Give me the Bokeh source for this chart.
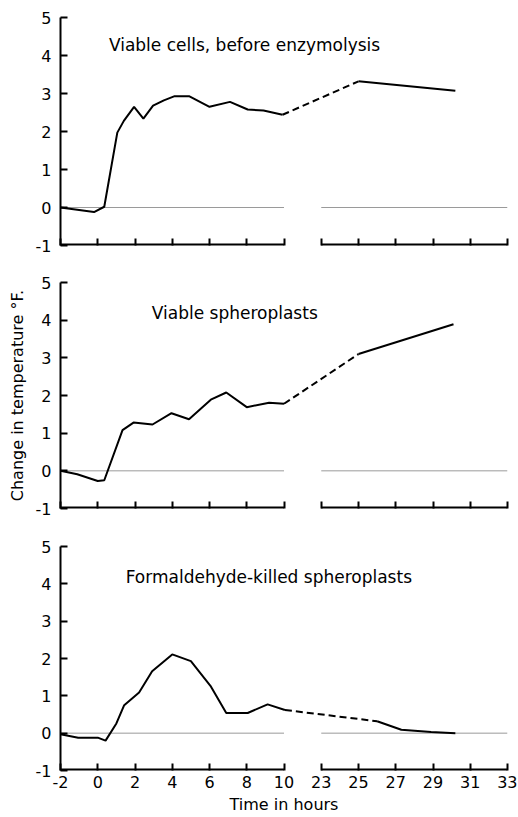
from bokeh.plotting import figure
from bokeh.layouts import column
from bokeh.models import Range1d, FixedTicker, Label
from bokeh.embed import file_html
from bokeh.resources import INLINE

# ---- data -------------------------------------------------------------
# broken time axis: hours 10 -> 23 are drawn as a 2-hour gap
x_min, break_start, break_end, x_max = -2, 10, 23, 33
gap = 2
x_ticks_hours = [-2, 0, 2, 4, 6, 8, 10, 23, 25, 27, 29, 31, 33]
y_ticks = [-1, 0, 1, 2, 3, 4, 5]

titles = ["Viable cells, before enzymolysis",
          "Viable spheroplasts",
          "Formaldehyde-killed spheroplasts"]
title_x = [0.6, 2.9, 1.5]
title_y = [4.28, 4.2, 4.17]

t_cells = [-2, -0.2, 0.35, 1.05, 1.4, 1.95, 2.45, 2.97, 3.55, 4.13, 4.9, 6.0, 7.1, 8.05, 8.9, 9.92, 25, 30.2]
y_cells = [0.0, -0.12, 0.02, 1.97, 2.28, 2.65, 2.34, 2.68, 2.82, 2.93, 2.93, 2.65, 2.78, 2.58, 2.55, 2.44, 3.32, 3.07]

t_sph = [-2, -1.1, 0.0, 0.35, 1.33, 1.92, 2.94, 3.96, 4.9, 6.07, 6.9, 8.0, 9.2, 10.0, 25, 30.1]
y_sph = [0.0, -0.09, -0.27, -0.25, 1.08, 1.28, 1.23, 1.53, 1.37, 1.89, 2.08, 1.69, 1.81, 1.78, 3.1, 3.89]

t_form = [-2, -1.05, 0.0, 0.42, 1.0, 1.42, 2.22, 2.92, 4.0, 5.0, 6.05, 6.9, 8.05, 9.12, 10.05, 26.0, 27.3, 28.9, 30.2]
y_form = [-0.03, -0.12, -0.12, -0.2, 0.26, 0.75, 1.09, 1.66, 2.11, 1.93, 1.27, 0.54, 0.54, 0.77, 0.62, 0.32, 0.09, 0.03, 0.0]

series = [(t_cells, y_cells), (t_sph, y_sph), (t_form, y_form)]


def to_axis(t):
    """Map hours to the broken axis coordinate."""
    return t if t < break_end else t - (break_end - break_start - gap)


FONT = "DejaVu Sans"

frame_heights = [228, 226, 224]
borders_top = [17, 19, 20]
borders_bottom = [18, 18, 43]

figs = []
for i, (ts, ys) in enumerate(series):
    last = i == 2
    p = figure(frame_width=447, frame_height=frame_heights[i],
               min_border_left=60, min_border_right=10,
               min_border_top=borders_top[i], min_border_bottom=borders_bottom[i],
               x_range=Range1d(to_axis(x_min), to_axis(x_max)),
               y_range=Range1d(-1, 5),
               output_backend="svg", toolbar_location=None)
    p.outline_line_color = None
    p.grid.visible = False
    p.background_fill_color = "white"

    # y axis
    ya = p.yaxis[0]
    ya.ticker = FixedTicker(ticks=y_ticks)
    ya.major_label_overrides = {v: str(v) for v in y_ticks}
    ya.axis_line_width = 2
    ya.axis_line_color = "black"
    ya.major_tick_in = 7
    ya.major_tick_out = 0
    ya.major_tick_line_width = 2
    ya.minor_tick_line_color = None
    ya.major_label_standoff = 9
    ya.major_label_text_font = FONT
    ya.major_label_text_font_size = "16px"
    ya.major_label_text_color = "black"
    if i == 1:
        ya.axis_label = "Change in temperature \u00b0F."
        ya.axis_label_text_font = FONT
        ya.axis_label_text_font_size = "16px"
        ya.axis_label_text_font_style = "normal"
        ya.axis_label_text_color = "black"
        ya.axis_label_standoff = 6

    # x axis (broken)
    xa = p.xaxis[0]
    xa.ticker = FixedTicker(ticks=[to_axis(h) for h in x_ticks_hours])
    xa.axis_line_color = None
    xa.major_tick_in = 7
    xa.major_tick_out = 0
    xa.major_tick_line_width = 2
    xa.minor_tick_line_color = None
    if last:
        xa.major_label_overrides = {to_axis(h): str(h) for h in x_ticks_hours}
        xa.major_label_text_font = FONT
        xa.major_label_text_font_size = "16px"
        xa.major_label_text_color = "black"
        xa.major_label_standoff = 5
        xa.axis_label = "Time in hours"
        xa.axis_label_text_font = FONT
        xa.axis_label_text_font_size = "16px"
        xa.axis_label_text_font_style = "normal"
        xa.axis_label_text_color = "black"
        xa.axis_label_standoff = 4
    else:
        xa.major_label_overrides = {to_axis(h): "" for h in x_ticks_hours}
        xa.major_label_standoff = 0

    seg_x0 = [to_axis(x_min), to_axis(break_end)]
    seg_x1 = [to_axis(break_start), to_axis(x_max)]
    # broken bottom axis line
    p.segment(x0=seg_x0, x1=seg_x1, y0=[-1, -1], y1=[-1, -1],
              line_color="black", line_width=4)
    # zero reference line
    p.segment(x0=seg_x0, x1=seg_x1, y0=[0, 0], y1=[0, 0],
              line_color="#9a9a9a", line_width=1)

    xs = [to_axis(t) for t in ts]
    pre = [k for k, t in enumerate(ts) if t < break_end]
    post = [k for k, t in enumerate(ts) if t >= break_end]
    p.line([xs[k] for k in pre], [ys[k] for k in pre], line_color="black", line_width=2)
    p.line([xs[pre[-1]], xs[post[0]]], [ys[pre[-1]], ys[post[0]]],
           line_color="black", line_width=2, line_dash="7 4")
    p.line([xs[k] for k in post], [ys[k] for k in post], line_color="black", line_width=2)

    p.add_layout(Label(x=title_x[i], y=title_y[i], text=titles[i],
                       text_font=FONT, text_font_size="17px",
                       text_baseline="middle", text_color="black"))
    figs.append(p)

layout = column(*figs, spacing=0)
open("out.html", "w").write(file_html(layout, INLINE))
